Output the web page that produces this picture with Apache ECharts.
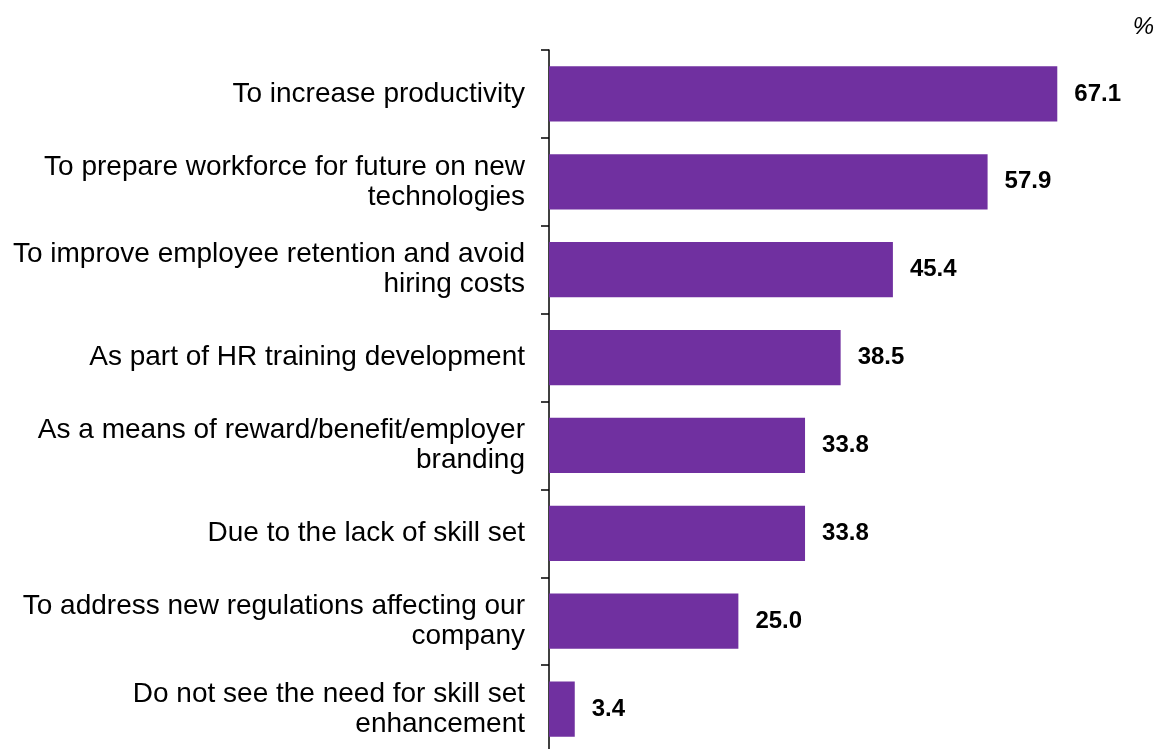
<!DOCTYPE html>
<html>
<head>
<meta charset="utf-8">
<script src="https://cdn.jsdelivr.net/npm/echarts@6/dist/echarts.min.js"></script>
<style>
  html, body { margin: 0; padding: 0; background: #ffffff; overflow: hidden; }
  /* the plot runs slightly past the bottom of the window, so the drawing surface is taller */
  #chart { width: 1167px; height: 770px; }
</style>
</head>
<body>
<div id="chart"></div>
<script>
// Reasons for skill set enhancement, share of respondents (%)
const categories = [
  'To increase productivity',
  'To prepare workforce for future on new\ntechnologies',
  'To improve employee retention and avoid\nhiring costs',
  'As part of HR training development',
  'As a means of reward/benefit/employer\nbranding',
  'Due to the lack of skill set',
  'To address new regulations affecting our\ncompany',
  'Do not see the need for skill set\nenhancement'
];
const values = [67.1, 57.9, 45.4, 38.5, 33.8, 33.8, 25.0, 3.4];
const unitLabel = '%';

const FONT = '"Liberation Sans", Arial, sans-serif';

const chart = echarts.init(document.getElementById('chart'), null, { renderer: 'canvas' });

chart.setOption({
  animation: false,
  backgroundColor: '#ffffff',
  title: {
    text: unitLabel,
    right: 8,
    top: 10,
    textStyle: {
      fontFamily: FONT,
      fontSize: 24,
      fontStyle: 'italic',
      fontWeight: 'normal',
      color: '#000000'
    }
  },
  grid: {
    left: 549,
    top: 50,
    width: 606,
    height: 703,
    containLabel: false
  },
  xAxis: {
    type: 'value',
    min: 0,
    max: 80,
    show: false
  },
  yAxis: {
    type: 'category',
    data: categories,
    inverse: true,
    axisLine: { show: true, lineStyle: { color: '#000000', width: 1.5 } },
    axisTick: { show: true, length: 8, inside: false, lineStyle: { color: '#000000', width: 1.5 } },
    axisLabel: {
      margin: 24,
      color: '#000000',
      fontFamily: FONT,
      fontSize: 28,
      lineHeight: 30,
      align: 'right',
      padding: [6, 0, 0, 0]
    },
    splitLine: { show: false }
  },
  series: [{
    type: 'bar',
    data: values,
    barCategoryGap: '37%',
    itemStyle: { color: '#7030A0' },
    label: {
      show: true,
      position: 'right',
      distance: 17,
      formatter: (p) => p.value.toFixed(1),
      color: '#000000',
      fontFamily: FONT,
      fontSize: 24,
      fontWeight: 'bold'
    }
  }]
});
</script>
</body>
</html>
